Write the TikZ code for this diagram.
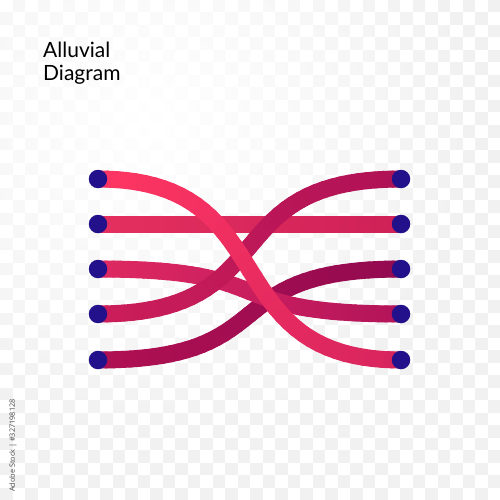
\documentclass[tikz,border=0pt]{standalone}
\usepackage{fontspec}
\setmainfont{Lato}
\newfontfamily\credfont{Open Sans}
\usetikzlibrary{fadings,decorations.markings}
\definecolor{dotc}{HTML}{22118A}
\definecolor{checkc}{HTML}{F1F1F1}
\definecolor{fa}{HTML}{FF3662}\definecolor{fb}{HTML}{D8245E}
\definecolor{sa}{HTML}{E4305F}\definecolor{sb}{HTML}{D02158}
\definecolor{ta}{HTML}{E02A62}\definecolor{tb}{HTML}{B4145A}
\definecolor{ua}{HTML}{CC1E5A}\definecolor{ub}{HTML}{B01256}
\definecolor{va}{HTML}{B01052}\definecolor{vb}{HTML}{940A50}
\tikzfading[name=bgfade, inner color=transparent!0, outer color=transparent!100]
\newcommand\flow[4]{%
  \path[decorate, decoration={markings,
    mark=between positions 0 and 1 step 0.025 with
      {\coordinate (fm\pgfkeysvalueof{/pgf/decoration/mark info/sequence number});}}]
    (#1.center) .. controls +(190,0) and +(-190,0) .. (#2.center);
  \foreach \i [evaluate=\i as \j using int(\i+1),
               evaluate=\i as \pc using int((\i-0.5)*2.5)] in {1,...,39}{
    \draw[bandseg, color=#4!\pc!#3] (fm\i) -- (fm\j);
  }
  \draw[bandseg, color=#4] (fm40) -- (#2.center);
}
\begin{document}
\begin{tikzpicture}[x=1pt,y=-1pt,
  enddot/.style={circle, fill=dotc, inner sep=0pt, minimum size=18.5pt},
  bandseg/.style={line width=17pt, line cap=round},
  title/.style={anchor=base west, inner sep=0pt, font=\fontsize{21}{23}\selectfont, text=black}]
\useasboundingbox (0,0) rectangle (500,500);
\fill[white] (0,0) rectangle (500,500);
\foreach \i in {0,...,39}{\foreach \j in {0,...,39}{%
  \ifodd\numexpr\i+\j\relax
    \fill[checkc] (\i*12.5,\j*12.5) rectangle ++(12.5,12.5);
  \fi}}
\begin{scope}
\clip (0,0) rectangle (500,500);
\fill[white, path fading=bgfade] (150,120) circle (330);
\end{scope}

\node[title] (t1) at (43,58) {Alluvial};
\node[title] (t2) at (43,81) {Diagram};
\node[rotate=90, anchor=west, inner sep=0pt, font=\credfont\fontsize{7.3}{9}\selectfont, text=black!72] (credit) at (13,492) {Adobe Stock | \#327198128};

\foreach \n/\y in {1/179,2/224,3/269,4/314,5/360}{
  \coordinate (l\n) at (98,\y);
  \coordinate (r\n) at (401,\y);
}
\flow{l5}{r3}{va}{vb}
\flow{l3}{r4}{ta}{tb}
\flow{l2}{r2}{sa}{sb}
\flow{l4}{r1}{ua}{ub}
\flow{l1}{r5}{fa}{fb}

\foreach \n in {1,...,5}{
  \node[enddot] (dl\n) at (l\n) {};
  \node[enddot] (dr\n) at (r\n) {};
}
\end{tikzpicture}
\end{document}
